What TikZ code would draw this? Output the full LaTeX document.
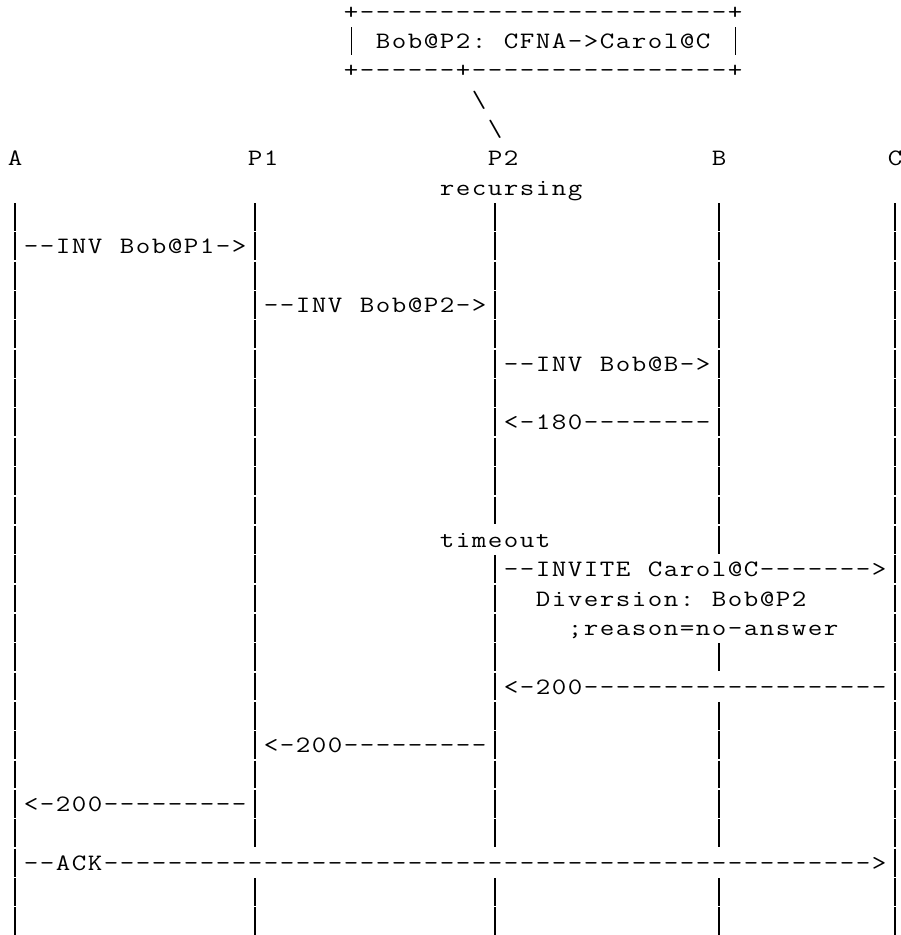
\documentclass[tikz,border=0pt]{standalone}
\usepackage{graphicx}

\newlength\cellw
\setlength\cellw{16pt}
\newcommand\vb{\rule[-6.3pt]{1pt}{27.8pt}}
\def\ascstop{ascstop}
\def\asc#1{\ascstep#1\ascstop}
\def\ascstep#1{\ifx\ascstop#1\else\makebox[\cellw]{\scalebox{1.2}[1]{#1}}\expandafter\ascstep\fi}

\begin{document}
\begin{tikzpicture}
	[x=16pt, y=-29.35pt,
	ascii/.style={anchor=base west, xshift=-8pt, inner sep=0pt, fill=white,
		text height=22pt, text depth=7pt,
		font=\fontsize{23.5pt}{28pt}\selectfont\ttfamily},
	lifeline/.style={line width=1.2pt, dash pattern=on 27.8pt off 1.55pt}]
	\useasboundingbox (0pt,0pt) rectangle (901pt,-935pt);
	\begin{scope}[shift={(15pt,-19.05pt)}]
	\foreach \n/\c in {A/0, P1/15, P2/30, B/44, C/55} {
		\coordinate (\n-top) at ([yshift=21.5pt]\c,7);
		\coordinate (\n-end) at ([yshift=-6.3pt]\c,31);
		\draw[lifeline] (\n-top) -- (\n-end);
	}
	\node[ascii] (box-top) at (21,0) {\asc{+ ---------- ---------- --- +}};
	\node[ascii] (box-text) at (21,1) {\asc{\vb ~Bob@P2:~CFNA->Carol@C~ \vb}};
	\node[ascii] (box-bot) at (21,2) {\asc{+ ------ + ---------- ------ +}};
	\node[ascii] (link1) at (29,3) {\asc{\textbackslash}};
	\node[ascii] (link2) at (30,4) {\asc{\textbackslash}};
	\node[ascii] (A) at (0,5) {\asc{A}};
	\node[ascii] (P1) at (15,5) {\asc{P1}};
	\node[ascii] (P2) at (30,5) {\asc{P2}};
	\node[ascii] (B) at (44,5) {\asc{B}};
	\node[ascii] (C) at (55,5) {\asc{C}};
	\node[ascii] (recursing) at (27,6) {\asc{recursing}};
	\node[ascii] (inv-p1) at (1,8) {\asc{--INV~Bob@P1->}};
	\node[ascii] (inv-p2) at (16,10) {\asc{--INV~Bob@P2->}};
	\node[ascii] (inv-b) at (31,12) {\asc{--INV~Bob@B->}};
	\node[ascii] (ring-b) at (31,14) {\asc{<-180 --------}};
	\node[ascii] (timeout) at (27,18) {\asc{timeout}};
	\node[ascii] (invite-c) at (31,19) {\asc{--INVITE~Carol@C ------- >}};
	\node[ascii] (diversion) at (33,20) {\asc{Diversion:~Bob@P2}};
	\node[ascii] (reason) at (35,21) {\asc{;reason=no-answer}};
	\node[ascii] (ok-c) at (31,23) {\asc{<-200 ---------- ---------}};
	\node[ascii] (ok-p2) at (16,25) {\asc{<-200 ---------}};
	\node[ascii] (ok-p1) at (1,27) {\asc{<-200 ---------}};
	\node[ascii] (ack) at (1,29) {\asc{--ACK ------------ ------------ ------------ ------------ >}};
	\end{scope}
\end{tikzpicture}
\end{document}
